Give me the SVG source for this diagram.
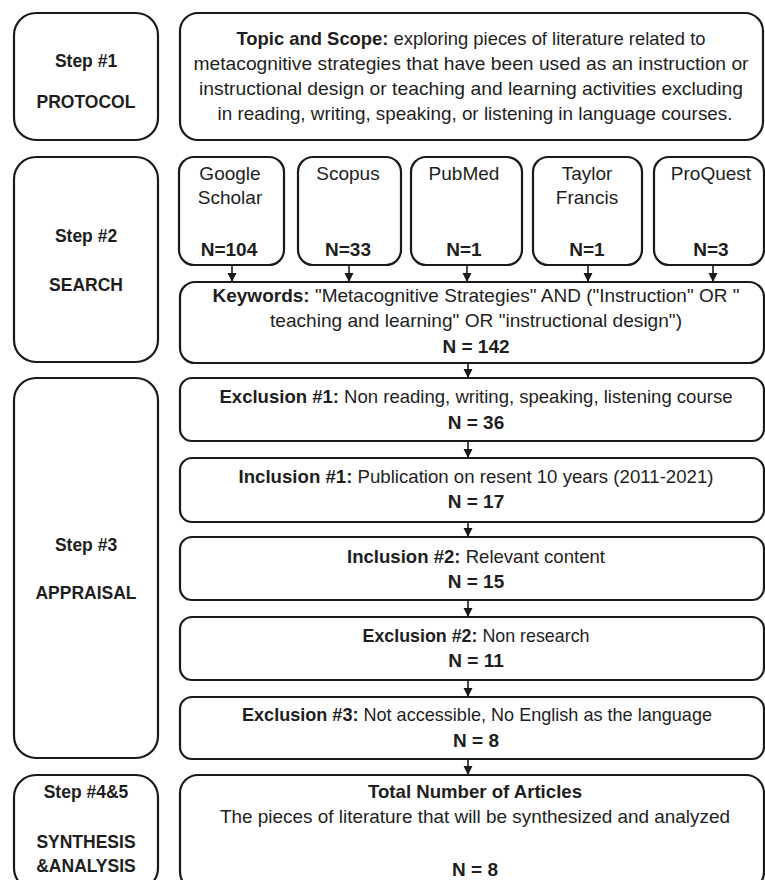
<svg xmlns="http://www.w3.org/2000/svg" width="765" height="880" viewBox="0 0 765 880">
<defs>
<style>
.box{fill:#fff;stroke:#1a1a1a;stroke-width:2.2}
text{font-family:"Liberation Sans",Arial,sans-serif;font-size:19px;fill:#1e1e1e;text-anchor:middle}
.b{font-weight:bold}
.st{font-weight:bold;font-size:17.5px}
.conn line{stroke:#1a1a1a;stroke-width:1.6;marker-end:url(#ah)}
</style>
<marker id="ah" markerUnits="userSpaceOnUse" markerWidth="10" markerHeight="10" refX="9" refY="5" orient="auto">
<path d="M0,0.5 L9,5 L0,9.5 z" fill="#1a1a1a"/>
</marker>
</defs>
<rect width="765" height="880" fill="#fff"/>

<g id="step1">
<rect class="box" x="14" y="13" width="144" height="127" rx="22"/>
<text class="st" x="86" y="67">Step #1</text>
<text class="st" x="86" y="108">PROTOCOL</text>
</g>
<g id="topic">
<rect class="box" x="180" y="13" width="583" height="127" rx="18"/>
<text x="471" y="45" textLength="469" lengthAdjust="spacingAndGlyphs"><tspan class="b">Topic and Scope:</tspan> exploring pieces of literature related to</text>
<text x="471" y="70" textLength="555" lengthAdjust="spacingAndGlyphs">metacognitive strategies that have been used as an instruction or</text>
<text x="471" y="95" textLength="544" lengthAdjust="spacingAndGlyphs">instructional design or teaching and learning activities excluding</text>
<text x="475" y="120" textLength="515" lengthAdjust="spacingAndGlyphs">in reading, writing, speaking, or listening in language courses.</text>
</g>

<g id="step2">
<rect class="box" x="14" y="157" width="144" height="205" rx="22"/>
<text class="st" x="86" y="242">Step #2</text>
<text class="st" x="86" y="291">SEARCH</text>
</g>
<g id="google">
<rect class="box" x="179" y="157" width="105" height="108" rx="15"/>
<text x="230" y="180">Google</text>
<text x="230" y="204">Scholar</text>
<text class="b" x="229" y="256">N=104</text>
</g>
<g id="scopus">
<rect class="box" x="298" y="157" width="103" height="108" rx="15"/>
<text x="348" y="180">Scopus</text>
<text class="b" x="348" y="256">N=33</text>
</g>
<g id="pubmed">
<rect class="box" x="411" y="157" width="111" height="108" rx="15"/>
<text x="464" y="180">PubMed</text>
<text class="b" x="464" y="256">N=1</text>
</g>
<g id="taylor">
<rect class="box" x="533" y="157" width="109" height="108" rx="15"/>
<text x="587" y="180">Taylor</text>
<text x="587" y="204">Francis</text>
<text class="b" x="587" y="256">N=1</text>
</g>
<g id="proquest">
<rect class="box" x="654" y="157" width="110" height="108" rx="15"/>
<text x="711" y="180">ProQuest</text>
<text class="b" x="711" y="256">N=3</text>
</g>
<g id="keywords">
<rect class="box" x="180" y="282" width="584" height="81" rx="15"/>
<text x="476" y="302" textLength="527" lengthAdjust="spacingAndGlyphs"><tspan class="b">Keywords:</tspan> "Metacognitive Strategies" AND ("Instruction" OR "</text>
<text x="476" y="327" textLength="412" lengthAdjust="spacingAndGlyphs">teaching and learning" OR "instructional design")</text>
<text class="b" x="476" y="353">N = 142</text>
</g>

<g id="step3">
<rect class="box" x="14" y="378" width="144" height="380" rx="22"/>
<text class="st" x="86" y="551">Step #3</text>
<text class="st" x="86" y="599">APPRAISAL</text>
</g>
<g id="excl1">
<rect class="box" x="180" y="378" width="584" height="63" rx="12"/>
<text x="476" y="403" textLength="513" lengthAdjust="spacingAndGlyphs"><tspan class="b">Exclusion #1:</tspan> Non reading, writing, speaking, listening course</text>
<text class="b" x="476" y="429">N = 36</text>
</g>
<g id="incl1">
<rect class="box" x="180" y="458" width="584" height="64" rx="12"/>
<text x="476" y="483" textLength="475" lengthAdjust="spacingAndGlyphs"><tspan class="b">Inclusion #1:</tspan> Publication on resent 10 years (2011-2021)</text>
<text class="b" x="476" y="508">N = 17</text>
</g>
<g id="incl2">
<rect class="box" x="180" y="537" width="584" height="63" rx="12"/>
<text x="476" y="563" textLength="258" lengthAdjust="spacingAndGlyphs"><tspan class="b">Inclusion #2:</tspan> Relevant content</text>
<text class="b" x="476" y="588">N = 15</text>
</g>
<g id="excl2">
<rect class="box" x="180" y="617" width="584" height="63" rx="12"/>
<text x="476" y="642" textLength="227" lengthAdjust="spacingAndGlyphs"><tspan class="b">Exclusion #2:</tspan> Non research</text>
<text class="b" x="476" y="667">N = 11</text>
</g>
<g id="excl3">
<rect class="box" x="180" y="697" width="584" height="62" rx="12"/>
<text x="477" y="721" textLength="470" lengthAdjust="spacingAndGlyphs"><tspan class="b">Exclusion #3:</tspan> Not accessible, No English as the language</text>
<text class="b" x="476" y="747">N = 8</text>
</g>

<g id="step45">
<rect class="box" x="14" y="775" width="144" height="115" rx="22"/>
<text class="st" x="86" y="798">Step #4&amp;5</text>
<text class="st" x="86" y="848">SYNTHESIS</text>
<text class="st" x="86" y="872">&amp;ANALYSIS</text>
</g>
<g id="total">
<rect class="box" x="180" y="775" width="584" height="115" rx="18"/>
<text class="b" x="475" y="798" textLength="214" lengthAdjust="spacingAndGlyphs">Total Number of Articles</text>
<text x="475" y="823" textLength="510" lengthAdjust="spacingAndGlyphs">The pieces of literature that will be synthesized and analyzed</text>
<text class="b" x="475" y="876">N = 8</text>
</g>

<g id="connectors" class="conn">
<line x1="232" y1="266" x2="232" y2="282"/>
<line x1="349" y1="266" x2="349" y2="282"/>
<line x1="467" y1="266" x2="467" y2="282"/>
<line x1="588" y1="266" x2="588" y2="282"/>
<line x1="713" y1="266" x2="713" y2="282"/>
<line x1="468" y1="364" x2="468" y2="378"/>
<line x1="468" y1="442" x2="468" y2="458"/>
<line x1="468" y1="523" x2="468" y2="537"/>
<line x1="468" y1="601" x2="468" y2="617"/>
<line x1="468" y1="681" x2="468" y2="697"/>
<line x1="468" y1="760" x2="468" y2="775"/>
</g>
</svg>
